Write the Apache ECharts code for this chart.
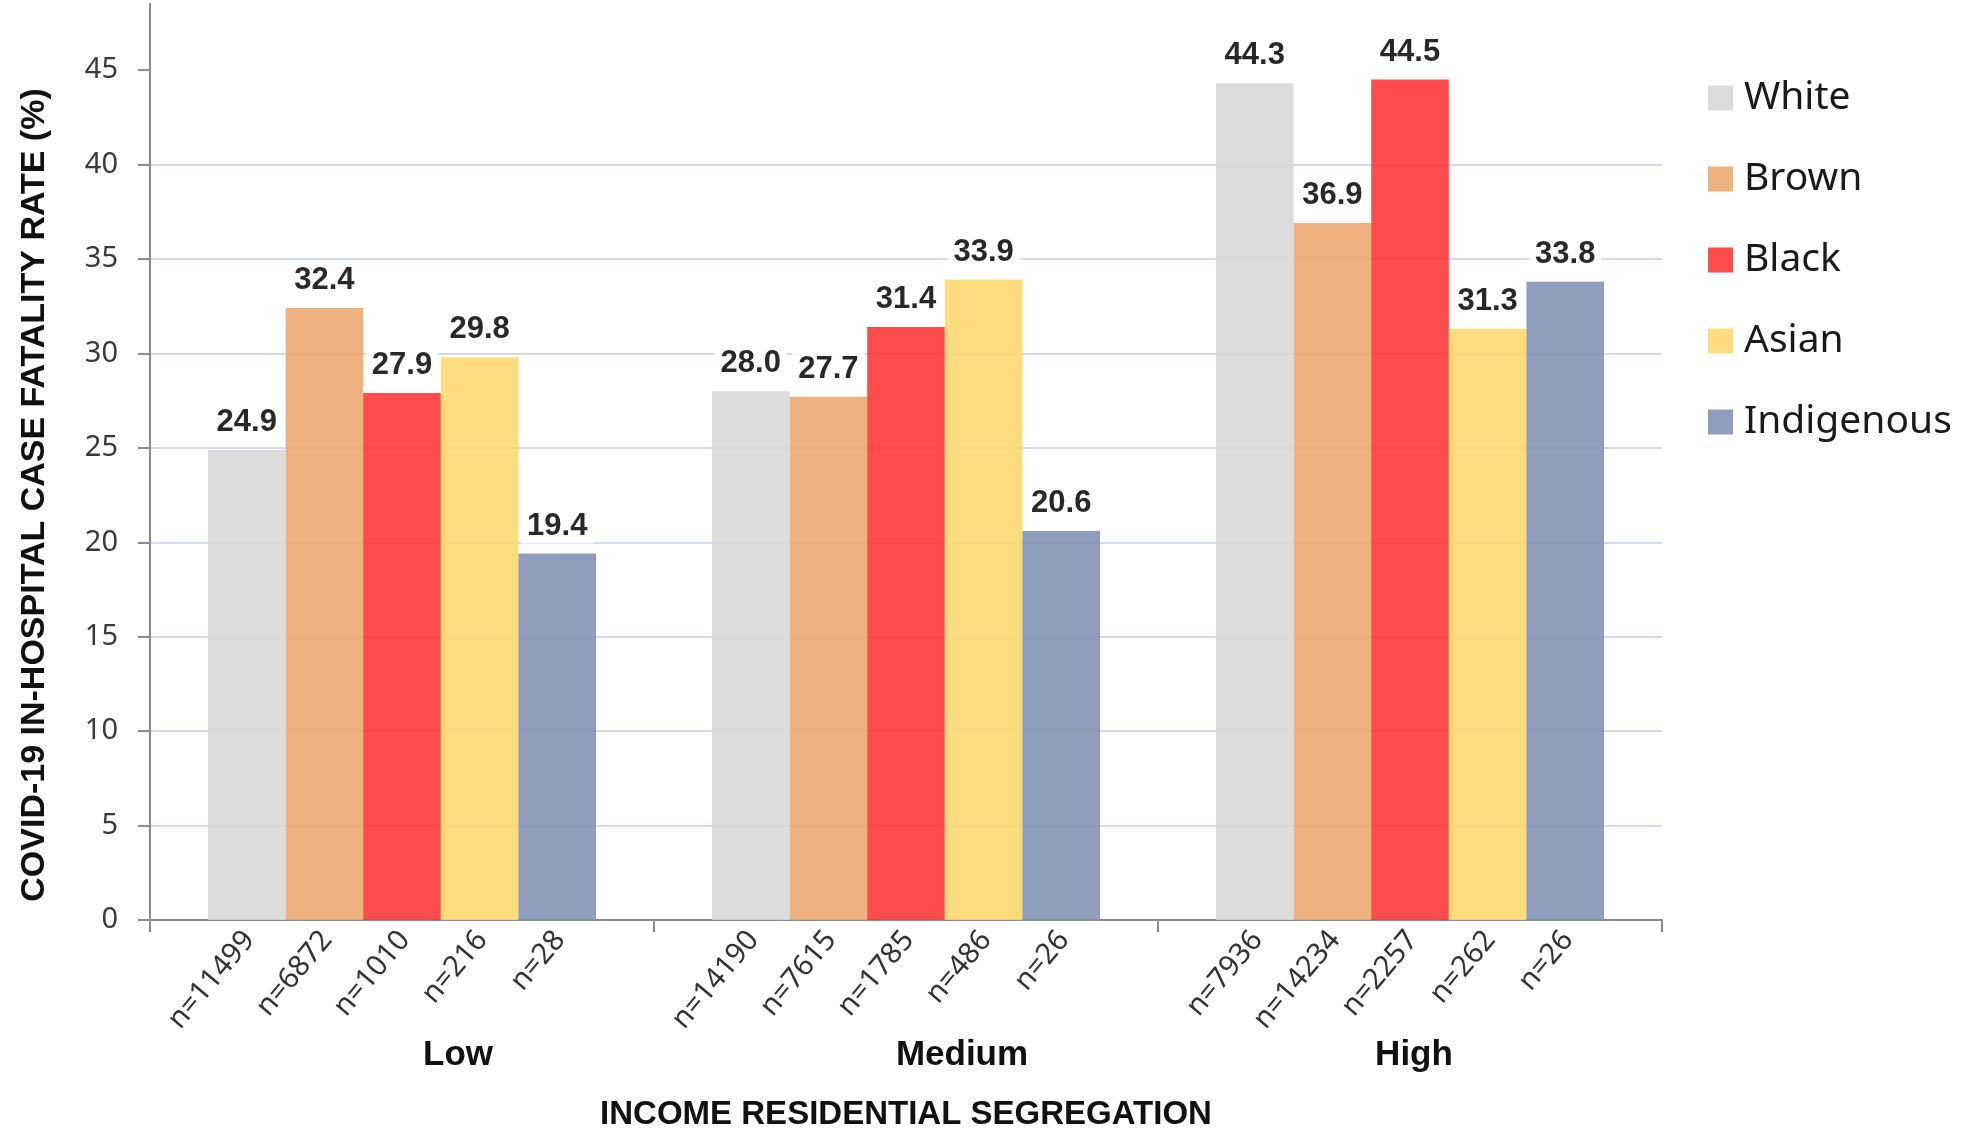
<!DOCTYPE html>
<html lang="en">

<head>
    <meta charset="UTF-8">
    <title>COVID-19 in-hospital case fatality rate</title>
    <style>
        html,
        body {
            margin: 0;
            width: 100%;
            height: 100%;
            background: #ffffff;
        }

        #main {
            width: 1962px;
            height: 1133px;
        }
    </style>
</head>

<body>
    <div id="main"></div>
    <script src="https://cdn.jsdelivr.net/npm/echarts@6/dist/echarts.min.js"></script>
    <script>
        // data
        var groups = ['Low', 'Medium', 'High'];
        var races = ['White', 'Brown', 'Black', 'Asian', 'Indigenous'];
        var whiteRate = [24.9, 28.0, 44.3];
        var brownRate = [32.4, 27.7, 36.9];
        var blackRate = [27.9, 31.4, 44.5];
        var asianRate = [29.8, 33.9, 31.3];
        var indigenousRate = [19.4, 20.6, 33.8];
        var whiteN = [11499, 14190, 7936];
        var brownN = [6872, 7615, 14234];
        var blackN = [1010, 1785, 2257];
        var asianN = [216, 486, 262];
        var indigenousN = [28, 26, 26];
        var yTicks = [0, 5, 10, 15, 20, 25, 30, 35, 40, 45];

        var rates = [whiteRate, brownRate, blackRate, asianRate, indigenousRate];
        var counts = [whiteN, brownN, blackN, asianN, indigenousN];
        // bars are slightly see-through so the grid shows on them
        var colors = ['#d8d8d8', '#eda972', '#fe3737', '#fdd870', '#8494b6'];

        var series = [];
        races.forEach(function (race, i) {
            // zero height bar at the foot of each stack, only carries the n= label
            series.push({
                name: race + ' n',
                type: 'bar',
                stack: race,
                silent: true,
                data: groups.map(function () { return 0; }),
                label: {
                    show: true,
                    position: 'bottom',
                    distance: 18,
                    rotate: 50,
                    align: 'right',
                    verticalAlign: 'middle',
                    offset: [4, 0],
                    fontFamily: 'Noto Sans',
                    fontSize: 29,
                    color: '#333333',
                    formatter: function (p) {
                        return 'n=' + counts[i][p.dataIndex];
                    }
                }
            });
            series.push({
                name: race,
                type: 'bar',
                stack: race,
                barGap: '0%',
                barCategoryGap: '23%',
                data: rates[i],
                itemStyle: { color: colors[i], opacity: 0.9 },
                label: {
                    show: true,
                    position: 'top',
                    distance: 10,
                    fontFamily: 'Liberation Sans',
                    fontWeight: 'bold',
                    fontSize: 31,
                    color: '#111111',
                    backgroundColor: '#ffffff',
                    padding: [2, 6],
                    formatter: function (p) {
                        return p.value.toFixed(1);
                    }
                }
            });
        });

        var option = {
            backgroundColor: '#ffffff',
            animation: false,
            legend: {
                data: races,
                orient: 'vertical',
                left: 1703,
                top: 73,
                itemWidth: 25,
                itemHeight: 25,
                itemGap: 41,
                icon: 'rect',
                textStyle: {
                    fontFamily: 'Noto Sans',
                    fontSize: 39,
                    lineHeight: 40,
                    color: '#1a1a1a',
                    padding: [0, 0, 0, 6]
                }
            },
            grid: {
                left: 150,
                right: 300,
                top: 4,
                bottom: 213,
                outerBoundsMode: 'none'
            },
            xAxis: {
                type: 'category',
                data: groups,
                name: 'INCOME RESIDENTIAL SEGREGATION',
                nameLocation: 'middle',
                nameGap: 178,
                nameTextStyle: {
                    fontFamily: 'Liberation Sans',
                    fontWeight: 'bold',
                    fontSize: 33,
                    color: '#111111'
                },
                axisLine: { lineStyle: { color: '#8c8c8c', width: 2 } },
                axisTick: { show: true, length: 12, lineStyle: { color: '#8c8c8c', width: 2 } },
                axisLabel: {
                    margin: 118,
                    formatter: function (v) {
                        // the Low and Medium captions sit right of the group centre
                        return v === 'High' ? '{c|' + v + '}' : '{s|' + v + '}';
                    },
                    rich: {
                        s: {
                            fontFamily: 'Liberation Sans', fontWeight: 'bold', fontSize: 35,
                            color: '#111111', padding: [0, 0, 0, 112]
                        },
                        c: {
                            fontFamily: 'Liberation Sans', fontWeight: 'bold', fontSize: 35,
                            color: '#111111', padding: [0, 0, 0, 8]
                        }
                    }
                },
                splitLine: { show: false }
            },
            yAxis: {
                type: 'value',
                min: 0,
                max: 48.5,
                interval: 5,
                name: 'COVID-19 IN-HOSPITAL CASE FATALITY RATE (%)',
                nameLocation: 'middle',
                nameGap: 98,
                nameTextStyle: {
                    fontFamily: 'Liberation Sans',
                    fontWeight: 'bold',
                    fontSize: 34,
                    color: '#111111',
                    padding: [0, 66, 0, 0]
                },
                axisLine: { show: true, lineStyle: { color: '#8c8c8c', width: 2 } },
                axisTick: {
                    show: true,
                    length: 12,
                    customValues: yTicks,
                    lineStyle: { color: '#8c8c8c', width: 2 }
                },
                axisLabel: {
                    margin: 32,
                    customValues: yTicks,
                    fontFamily: 'Noto Sans',
                    fontSize: 29,
                    color: '#3a3a3a'
                },
                splitLine: {
                    show: true,
                    showMaxLine: false,
                    lineStyle: { color: '#d5dbee', width: 2 }
                }
            },
            series: series
        };

        var myChart = echarts.init(document.getElementById('main'));
        myChart.setOption(option);
    </script>
</body>

</html>
